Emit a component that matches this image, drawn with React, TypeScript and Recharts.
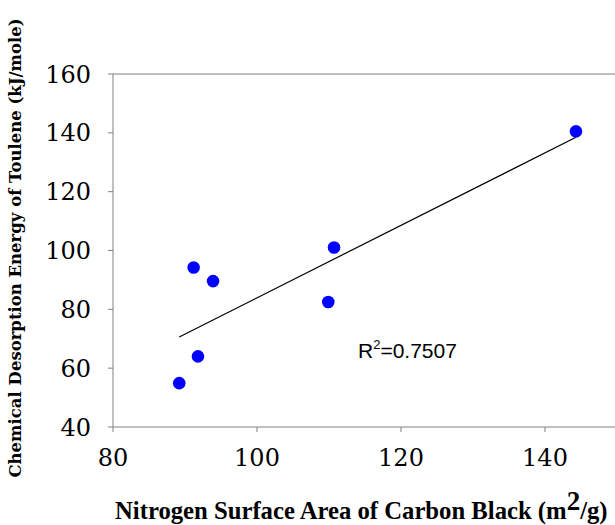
import { ScatterChart, Scatter, XAxis, YAxis, ReferenceLine } from 'recharts';

const surfaceArea = [89.2, 91.2, 91.8, 93.9, 109.9, 110.7, 144.3];
const desorptionEnergy = [54.9, 94.2, 64.0, 89.6, 82.5, 101.0, 140.5];

// trend line end points
const trendX = [89.2, 144.3];
const trendY = [70.6, 138.5];

const xTicks = [80, 100, 120, 140];
const yTicks = [40, 60, 80, 100, 120, 140, 160];

const points = surfaceArea.map((x, i) => ({ x, y: desorptionEnergy[i] }));

const tickFont = { fontFamily: '"DejaVu Serif", serif', fontSize: 24, fill: '#000' };
const axisGray = '#808080';

function Dot(props: any) {
  return <circle cx={props.cx} cy={props.cy} r={6.3} fill="#0000ff" />;
}

function App() {
  return (
    <div style={{ position: 'absolute', left: 0, top: 0, width: 615, height: 525, overflow: 'hidden', background: '#fff' }}>
      <ScatterChart width={700} height={525} margin={{ top: 74, right: 11, bottom: 48, left: 13 }}>
        <XAxis
          type="number"
          dataKey="x"
          domain={[80, 160]}
          ticks={xTicks}
          height={50}
          tickSize={5}
          tickMargin={17}
          tick={tickFont}
          stroke={axisGray}
          tickLine={{ stroke: axisGray }}
        />
        <YAxis
          type="number"
          dataKey="y"
          domain={[40, 160]}
          ticks={yTicks}
          width={100}
          tickSize={5}
          tickMargin={17}
          tick={tickFont}
          stroke={axisGray}
          tickLine={{ stroke: axisGray }}
        />
        <ReferenceLine y={160} stroke={axisGray} />
        <ReferenceLine x={160} stroke={axisGray} />
        <ReferenceLine
          segment={[{ x: trendX[0], y: trendY[0] }, { x: trendX[1], y: trendY[1] }]}
          stroke="#000"
          strokeWidth={1.2}
        />
        <Scatter data={points} shape={Dot} isAnimationActive={false} />
        <text x={358} y={358} fontFamily='"Liberation Sans", Arial, sans-serif' fontSize={21} fill="#000">
          R<tspan fontSize={13} dy={-9}>2</tspan><tspan dy={9}>=0.7507</tspan>
        </text>
        <text
          x={0}
          y={0}
          transform="translate(21 248) rotate(-90)"
          textAnchor="middle"
          fontFamily='"DejaVu Serif", serif'
          fontWeight="bold"
          fontSize={16.5}
          fill="#000"
        >
          Chemical Desorption Energy of Toulene (kJ/mole)
        </text>
        <text x={115} y={519} fontFamily='"Liberation Serif", "Times New Roman", serif' fontWeight="bold" fontSize={24.7} fill="#000">
          Nitrogen Surface Area of Carbon Black (m<tspan fontSize={27} dy={-9}>2</tspan><tspan dy={9}>/g)</tspan>
        </text>
      </ScatterChart>
    </div>
  );
}

export default App;
